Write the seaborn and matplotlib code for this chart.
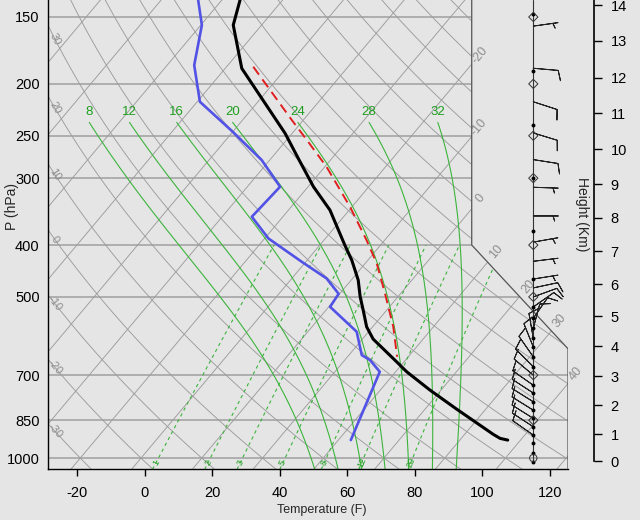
import numpy as np
import pandas as pd
import matplotlib
matplotlib.use("Agg")
import matplotlib.pyplot as plt
import seaborn as sns
from matplotlib.patches import Polygon
from matplotlib.path import Path

# ------------------------------------------------------------
# Sounding (pressure in hPa, temperature in F)
# ------------------------------------------------------------
temp_p = [139.5, 155.3, 187.1, 247.4, 277.5, 311.3, 344.2, 400.1, 426.8, 465.2,
          499.6, 529.0, 568.6, 599.5, 661.0, 690.1, 746.4, 809.9, 903.1, 918.8, 925.6]
temp_f = [-88.6, -84.4, -71.1, -42.1, -31.3, -20.4, -9.7, 3.4, 9.2, 16.1,
          20.8, 25.0, 30.2, 35.2, 47.8, 53.3, 64.7, 77.3, 94.5, 97.5, 100.2]

dewp_p = [139.5, 155.3, 184.5, 216.0, 245.0, 277.5, 311.3, 354.2, 388.8, 429.9,
          461.8, 493.4, 521.8, 580.9, 642.2, 656.1, 690.1, 925.6]
dewp_f = [-101.0, -93.7, -86.0, -75.2, -58.4, -42.4, -30.3, -31.2, -20.9, -5.2,
          6.3, 13.7, 14.4, 28.5, 35.8, 39.5, 45.3, 53.7]

parcel_p = [185.8, 233.7, 254.6, 285.7, 339.3, 391.6, 432.8, 492.3, 568.6, 646.9]
parcel_f = [-68.1, -43.4, -34.0, -21.5, -4.6, 8.6, 17.4, 27.3, 38.1, 46.7]

# winds: pressure, direction (deg), speed (kt)
wind_p = [156, 187, 216, 247, 277, 312, 353, 395, 429, 463, 481, 500, 522, 548,
          572, 597, 620, 647, 675, 700, 731, 756, 785, 814, 843, 874, 906]
wind_dir = [82, 95, 108, 107, 99, 92, 90, 80, 83, 81, 78, 70, 55, 35,
            15, 350, 338, 325, 315, 310, 305, 303, 302, 302, 302, 303, 305]
wind_kt = [5, 10, 10, 10, 10, 5, 5, 5, 5, 5, 10, 10, 10, 10,
           10, 10, 10, 10, 10, 10, 10, 10, 10, 10, 10, 10, 10]

dot_p = [148, 189, 239, 300, 377, 463, 522, 548, 572, 597, 620, 647, 675,
         731, 756, 785, 814, 843, 874, 906, 937, 979, 1016]
mand_p = [150, 200, 250, 300, 400, 500, 700, 850]
sfc_p = [1000]

height_km = list(range(15))
height_p = [1013, 902, 796, 703, 618, 543, 473, 411, 356, 308, 265, 227, 195, 166, 142.5]

press_lines = [1000, 850, 700, 500, 400, 300, 250, 200, 150]
temp_ticks_f = [-20, 0, 20, 40, 60, 80, 100, 120]
isotherms_c = np.arange(-100, 51, 10)
theta_c = np.arange(-30, 171, 10)
theta_w = [8, 12, 16, 20, 24, 28, 32]
mix_ratio = [1, 2, 3, 5, 8, 12, 20]


# ------------------------------------------------------------
# skew-T coordinates
# ------------------------------------------------------------
def skewty(p):
    return 132.182 - 44.061 * np.log10(np.asarray(p, dtype=float))


def skewtx(t_c, ty):
    return 0.54 * np.asarray(t_c, dtype=float) + 0.90692 * np.asarray(ty, dtype=float)


def f2c(f):
    return (np.asarray(f, dtype=float) - 32.0) / 1.8


def to_xy(p, t_f):
    y = skewty(p)
    return skewtx(f2c(t_f), y), y


def dry_adiabat(th, p):
    return (th + 273.15) * (p / 1000.0) ** 0.286 - 273.15


def mixrat_temp(w, p):
    es = w * p / (622.0 + w)
    a = np.log(es / 6.112)
    return 243.5 * a / (17.67 - a)


def moist_slope(t, p):
    rd, cp, lv, eps = 287.04, 1005.7, 2.501e6, 0.622
    es = 6.112 * np.exp(17.67 * (t - 273.15) / (t - 29.65))
    rs = eps * es / (p - es)
    return (rd * t + lv * rs) / (cp + lv * lv * rs * eps / (rd * t * t))


def moist_adiabat(tw, p_top=236.0):
    parts = []
    for grid in (np.linspace(np.log(1000), np.log(1050), 8),
                 np.linspace(np.log(1000), np.log(p_top), 150)):
        t = tw + 273.15
        ts = [t]
        for a, b in zip(grid[:-1], grid[1:]):
            h = b - a
            k1 = moist_slope(t, np.exp(a))
            k2 = moist_slope(t + h * k1 / 2, np.exp(a + h / 2))
            k3 = moist_slope(t + h * k2 / 2, np.exp(a + h / 2))
            k4 = moist_slope(t + h * k3, np.exp(b))
            t = t + h * (k1 + 2 * k2 + 2 * k3 + k4) / 6
            ts.append(t)
        parts.append((np.exp(grid), np.array(ts) - 273.15))
    p = np.concatenate([parts[0][0][::-1], parts[1][0][1:]])
    t = np.concatenate([parts[0][1][::-1], parts[1][1][1:]])
    return p, t


# ------------------------------------------------------------
# figure
# ------------------------------------------------------------
sns.set_theme(style="white")
plt.rcParams['font.family'] = ['Liberation Sans', 'DejaVu Sans']
bg = '#e5e5e5'
grid_col = '#9c9c9c'
green = '#3cb43c'
green_txt = '#1e9e1e'

fig = plt.figure(figsize=(6.4, 5.2), dpi=100, facecolor=bg)
ax = fig.add_axes([48 / 640, 50.6 / 520, 520 / 640, 469.4 / 520])
ax.set_facecolor('none')
x_lo, x_hi = -19.07, 27.16
y_lo, y_hi = float(skewty(1050)), 37.7
ax.set_xlim(x_lo, x_hi)
ax.set_ylim(y_lo, y_hi)

x_cut = float(skewtx(5, skewty(400)))
y_far = float(skewty(100))
border = [(x_lo, y_far), (x_lo, y_lo), (x_hi, y_lo), (x_hi, float(skewty(625))),
          (x_cut, float(skewty(400))), (x_cut, y_far)]
clip = Polygon(border, closed=True, transform=ax.transData, fc='none', ec='none')
border_path = Path(border + [border[0]], closed=True)


def grid_line(x, y, **kw):
    ln, = ax.plot(x, y, **kw)
    ln.set_clip_path(clip)
    return ln


def screen_angle(x, y, i):
    pts = ax.transData.transform(np.c_[x[i:i + 2], y[i:i + 2]])
    d = pts[1] - pts[0]
    return np.degrees(np.arctan2(d[1], d[0]))


# pressure lines
for p in press_lines:
    yy = float(skewty(p))
    grid_line([x_lo, x_hi], [yy, yy], color='#aaaaaa', lw=1.3, zorder=1)

# isotherms
yy = np.linspace(y_lo, y_far, 400)
for t in isotherms_c:
    grid_line(skewtx(t, yy), yy, color=grid_col, lw=0.65, zorder=1)

# isotherm labels on the right border
for t in [-20, -10, 0, 10, 20, 30, 40]:
    xx = skewtx(t, yy)
    inside = border_path.contains_points(np.c_[xx, yy])
    idx = np.where(~inside & (np.arange(len(yy)) > np.argmax(inside)))[0][0]
    ye = yy[idx] + 0.75
    ax.text(float(skewtx(t, ye)), ye, str(t), rotation=50, color='#8c8c8c',
            fontsize=9, ha='center', va='center', rotation_mode='anchor', clip_on=False)

# dry adiabats
pp = np.logspace(np.log10(1050), np.log10(100), 300)
for th in theta_c:
    tt = dry_adiabat(th, pp)
    grid_line(skewtx(tt, skewty(pp)), skewty(pp), color=grid_col, lw=0.65, zorder=1)

# dry adiabat labels on the left edge
for th in [-30, -20, -10, 0, 10, 20, 30]:
    xx = skewtx(dry_adiabat(th, pp), skewty(pp))
    ys = skewty(pp)
    xl = x_lo + 0.6
    yl = np.interp(xl, xx[::-1], ys[::-1])
    i = np.argmin(np.abs(xx - xl))
    ang = screen_angle(xx, ys, min(i, len(xx) - 2))
    if ang > 90:
        ang -= 180
    elif ang < -90:
        ang += 180
    ax.text(xl, yl, str(th), rotation=ang, color='#8c8c8c', fontsize=8,
            ha='center', va='center', rotation_mode='anchor')

# saturated adiabats
for tw in theta_w:
    p, t = moist_adiabat(tw)
    x, y = skewtx(t, skewty(p)), skewty(p)
    grid_line(x, y, color=green, lw=0.8, zorder=2)
    ax.text(x[-1], float(skewty(226)), str(tw), color=green_txt, fontsize=9.5,
            ha='center', va='center')

# mixing ratio lines
pm = np.logspace(np.log10(1050), np.log10(400), 60)
for w in mix_ratio:
    x, y = skewtx(mixrat_temp(w, pm), skewty(pm)), skewty(pm)
    grid_line(x, y, color=green, lw=0.8, linestyle=(0, (3, 3)), zorder=2)
    yl = float(skewty(1020))
    xl = float(skewtx(mixrat_temp(w, 1020.0), yl))
    ang = screen_angle(x, y, 2)
    ax.text(xl, yl, str(w), color=green_txt, fontsize=6.5, rotation=ang - 90 if ang > 90 else ang,
            ha='center', va='center', rotation_mode='anchor')

# border of the diagram
bx = [x_hi, x_hi, x_cut, x_cut]
by = [y_lo, float(skewty(625)), float(skewty(400)), y_far]
ax.plot(bx, by, color='#555555', lw=0.9, zorder=3, clip_on=True)

# ------------------------------------------------------------
# profiles
# ------------------------------------------------------------
tx, ty = to_xy(temp_p, temp_f)
dx, dy = to_xy(dewp_p, dewp_f)
rx, ry = to_xy(parcel_p, parcel_f)
df_t = pd.DataFrame({'x': tx, 'y': ty})
df_d = pd.DataFrame({'x': dx, 'y': dy})
df_r = pd.DataFrame({'x': rx, 'y': ry})

sns.lineplot(data=df_d, x='x', y='y', sort=False, estimator=None, color='#5252e6',
             lw=1.9, ax=ax, legend=False, zorder=5)
sns.lineplot(data=df_t, x='x', y='y', sort=False, estimator=None, color='black',
             lw=2.2, ax=ax, legend=False, zorder=6)
sns.lineplot(data=df_r, x='x', y='y', sort=False, estimator=None, color='#e01e1e',
             lw=1.4, ax=ax, legend=False, zorder=6)
ax.lines[-1].set_dashes((5, 3))

# axes, ticks
for s in ['top', 'right']:
    ax.spines[s].set_visible(False)
for s in ['left', 'bottom']:
    ax.spines[s].set_color('black')
    ax.spines[s].set_linewidth(1.0)
ax.set_yticks(skewty(press_lines))
ax.set_yticklabels([str(p) for p in press_lines])
ax.set_xticks(skewtx(f2c(temp_ticks_f), skewty(1050)))
ax.set_xticklabels([str(t) for t in temp_ticks_f])
ax.tick_params(axis='y', length=0, pad=6, labelsize=10.5, colors='black')
ax.tick_params(axis='x', length=5, width=1, pad=7, labelsize=10.5, colors='black',
               bottom=True, direction='out')
ax.set_xlabel('')
ax.set_ylabel('')
ax.grid(False)

fig.text(322 / 640, 1 - 510 / 520, 'Temperature (F)', ha='center', va='center', fontsize=9)
fig.text(12 / 640, 1 - 207 / 520, 'P (hPa)', ha='center', va='center', fontsize=10,
         rotation=90)

# ------------------------------------------------------------
# wind column and height axis
# ------------------------------------------------------------
ax2 = fig.add_axes([500 / 640, 50.6 / 520, 94 / 640, 469.4 / 520])
ax2.set_facecolor('none')
ax2.set_xlim(0, 94)
ax2.set_ylim(y_lo, y_hi)
staff_x = 33.3
ax2.plot([staff_x, staff_x], [float(skewty(1016)), y_hi], color='#333333', lw=0.8, zorder=2)

wd = np.radians(wind_dir)
spd = np.asarray(wind_kt, dtype=float)
u = -spd * np.sin(wd)
v = -spd * np.cos(wd)
ax2.barbs(np.full(len(wind_p), staff_x), skewty(wind_p), u, v, length=6.0,
          linewidth=0.7, color='#222222', sizes=dict(height=0.4, spacing=0.14),
          zorder=3)

sns.scatterplot(x=np.full(len(dot_p), staff_x), y=skewty(dot_p), s=8, color='black',
                linewidth=0, ax=ax2, legend=False, zorder=4)
ax2.scatter(np.full(len(mand_p), staff_x), skewty(mand_p), marker='D', s=22,
            facecolors='none', edgecolors='#333333', linewidths=0.7, zorder=4)
ax2.scatter([staff_x], skewty(sfc_p), marker='o', s=28, facecolors='none',
            edgecolors='#333333', linewidths=0.7, zorder=4)

for s in ['top', 'left', 'bottom']:
    ax2.spines[s].set_visible(False)
ax2.spines['right'].set_color('black')
ax2.spines['right'].set_linewidth(1.2)
ax2.spines['right'].set_bounds(float(skewty(height_p[0])), y_hi)
ax2.set_xticks([])
ax2.yaxis.tick_right()
ax2.set_yticks(skewty(height_p))
ax2.set_yticklabels([str(h) for h in height_km])
ax2.tick_params(axis='y', right=True, left=False, length=5.5, width=1, pad=6.5,
                labelsize=10.5, colors='black', direction='out')
ax2.set_xlabel('')
ax2.set_ylabel('')
ax2.grid(False)
fig.text(582 / 640, 1 - 214 / 520, 'Height (Km)', ha='center', va='center', fontsize=10,
         rotation=270)

fig.savefig('out.png', dpi=100, facecolor=bg)
